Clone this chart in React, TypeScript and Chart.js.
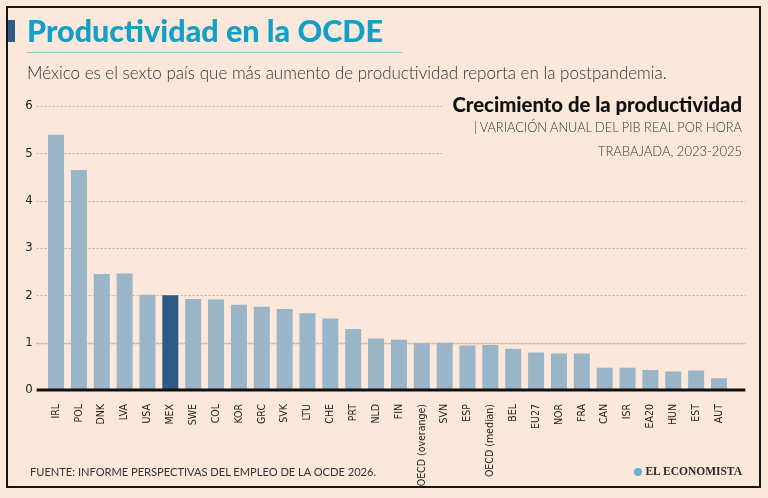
import React, { useEffect, useRef } from "react";
import { Chart, registerables } from "chart.js";

Chart.register(...registerables);

// Growth of real GDP per hour worked, 2023-2025 (annual %)
const categories: string[] = [
  "IRL", "POL", "DNK", "LVA", "USA", "MEX", "SWE", "COL", "KOR", "GRC",
  "SVK", "LTU", "CHE", "PRT", "NLD", "FIN", "OECD (overange)", "SVN", "ESP", "OECD (median)",
  "BEL", "EU27", "NOR", "FRA", "CAN", "ISR", "EA20", "HUN", "EST", "AUT",
];
const productivityGrowth: number[] = [
  5.39, 4.65, 2.45, 2.46, 2.01, 2.0, 1.92, 1.91, 1.8, 1.76,
  1.71, 1.62, 1.51, 1.29, 1.09, 1.06, 0.99, 1.0, 0.94, 0.95,
  0.87, 0.79, 0.77, 0.77, 0.47, 0.47, 0.42, 0.39, 0.41, 0.25,
];
const yTicks: number[] = [0, 1, 2, 3, 4, 5, 6];
const highlighted = "MEX";

const BG = "#fce8da";
const BAR = "#99b5c7";
const BAR_HI = "#2e5a88";
const NARROW = "'Liberation Sans Narrow', 'DejaVu Sans Condensed', 'Arial Narrow', sans-serif";

// dotted grid and heavy baseline that run a little past the bars on both sides
const gridPlugin = {
  id: "extendedGrid",
  beforeDatasetsDraw(chart: any) {
    const { ctx, chartArea, scales } = chart;
    const y = scales.y;
    const x0 = chartArea.left - 8;
    const x1 = chartArea.right + 15;
    ctx.save();
    for (const v of yTicks) {
      if (v === 0) continue;
      const py = Math.round(y.getPixelForValue(v)) + 0.5;
      if (v === 1) {
        ctx.strokeStyle = "rgba(215,200,188,0.7)";
        ctx.lineWidth = 2;
        ctx.setLineDash([]);
        ctx.beginPath();
        ctx.moveTo(x0, py);
        ctx.lineTo(x1, py);
        ctx.stroke();
      }
      ctx.strokeStyle = "#bdb3aa";
      ctx.lineWidth = 1;
      ctx.setLineDash([2, 2]);
      ctx.beginPath();
      ctx.moveTo(x0, py);
      ctx.lineTo(x1, py);
      ctx.stroke();
    }
    ctx.restore();
  },
  afterDatasetsDraw(chart: any) {
    const { ctx, chartArea, scales } = chart;
    const py = scales.y.getPixelForValue(0);
    ctx.save();
    ctx.strokeStyle = "#111";
    ctx.lineWidth = 3;
    ctx.beginPath();
    ctx.moveTo(chartArea.left - 8, py);
    ctx.lineTo(chartArea.right + 15, py);
    ctx.stroke();
    ctx.restore();
  },
};

function ProductivityChart() {
  const ref = useRef<HTMLCanvasElement>(null);

  useEffect(() => {
    if (!ref.current) return;
    const chart = new Chart(ref.current, {
      type: "bar",
      data: {
        labels: categories,
        datasets: [
          {
            data: productivityGrowth,
            backgroundColor: categories.map((c) => (c === highlighted ? BAR_HI : BAR)),
            borderWidth: 0,
            categoryPercentage: 1,
            barPercentage: 0.7,
          },
        ],
      },
      options: {
        responsive: false,
        animation: false,
        layout: { padding: { left: 20.6, right: 37.6, top: 106, bottom: 0 } },
        plugins: { legend: { display: false }, tooltip: { enabled: false }, title: { display: false } },
        scales: {
          x: {
            grid: { display: false },
            border: { display: false },
            ticks: {
              autoSkip: false,
              maxRotation: 90,
              minRotation: 90,
              padding: 6,
              color: "#222",
              font: { family: NARROW, size: 10.5 },
            },
            afterFit(scale: any) {
              scale.height = 108;
            },
          },
          y: {
            min: 0,
            max: 6,
            grid: { display: false, drawTicks: false },
            border: { display: false },
            afterBuildTicks(scale: any) {
              scale.ticks = yTicks.map((v) => ({ value: v }));
            },
            ticks: {
              padding: 12,
              color: "#222",
              font: { family: NARROW, size: 13 },
            },
            afterFit(scale: any) {
              scale.width = 24;
            },
          },
        },
      },
      plugins: [gridPlugin],
    });
    return () => chart.destroy();
  }, []);

  return <canvas ref={ref} width={768} height={498} style={{ position: "absolute", left: 0, top: 0 }} />;
}

export default function App() {
  const abs: React.CSSProperties = { position: "absolute", whiteSpace: "nowrap", lineHeight: 1 };
  return (
    <div style={{ position: "absolute", left: 0, top: 0, width: 768, height: 498, background: BG, overflow: "hidden", fontFamily: "Lato, sans-serif" }}>
      <ProductivityChart />
      <div style={{ position: "absolute", left: 6, top: 6, width: 755, height: 482, border: "2px solid #141414", boxSizing: "border-box" }} />
      <div style={{ position: "absolute", left: 8, top: 20, width: 7, height: 22, background: BAR_HI }} />
      <div style={{ ...abs, left: 27, top: 15, fontSize: 30.5, fontWeight: 900, color: "#12a0c8" }}>Productividad en la OCDE</div>
      <div style={{ position: "absolute", left: 27, top: 52, width: 375, height: 1, background: "#8fcad8" }} />
      <div style={{ ...abs, left: 27, top: 64, fontSize: 17, fontWeight: 300, color: "#333" }}>
        México es el sexto país que más aumento de productividad reporta en la postpandemia.
      </div>
      <div style={{ position: "absolute", left: 442, top: 88, width: 315, height: 104, background: BG }}>
        <div style={{ ...abs, right: 15, top: 6, fontSize: 20.3, fontWeight: 900, color: "#111" }}>Crecimiento de la productividad</div>
        <div style={{ ...abs, right: 15, top: 33, fontSize: 12.8, fontWeight: 300, color: "#333" }}>| VARIACIÓN ANUAL DEL PIB REAL POR HORA</div>
        <div style={{ ...abs, right: 15, top: 57, fontSize: 13, fontWeight: 300, color: "#333" }}>TRABAJADA, 2023-2025</div>
      </div>
      <div style={{ ...abs, left: 30, top: 466, fontSize: 11.1, fontWeight: 400, color: "#333" }}>
        FUENTE: INFORME PERSPECTIVAS DEL EMPLEO DE LA OCDE 2026.
      </div>
      <div style={{ ...abs, right: 26, top: 466, fontSize: 11.5, fontWeight: 700, color: "#2a2a2a", fontFamily: "'Liberation Serif', serif", display: "flex", alignItems: "center" }}>
        <span style={{ display: "inline-block", width: 8, height: 8, borderRadius: 4, background: "#5fb2d6", marginRight: 3 }} />
        EL ECONOMISTA
      </div>
    </div>
  );
}
